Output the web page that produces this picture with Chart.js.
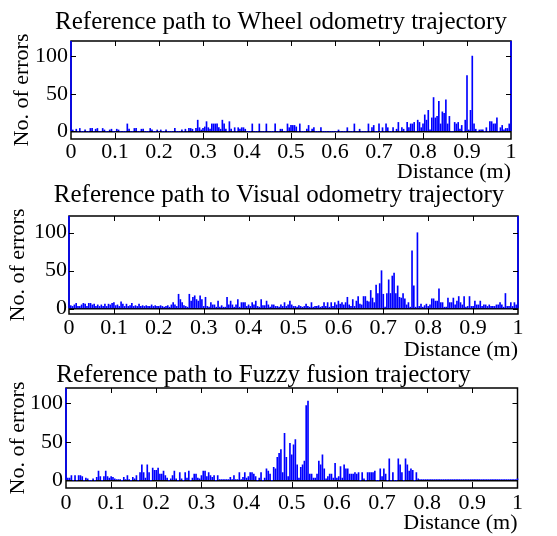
<!DOCTYPE html>
<html>
<head>
<meta charset="utf-8">
<script src="https://cdn.jsdelivr.net/npm/chart.js@4.4.0/dist/chart.umd.min.js"></script>
<style>
  html, body { margin: 0; padding: 0; background: #fff; }
  body { width: 557px; height: 536px; position: relative; overflow: hidden; }
  canvas { position: absolute; }
</style>
</head>
<body>
<canvas id="wheelChart" width="552" height="190" style="left:5px;top:0px"></canvas>
<canvas id="visualChart" width="556" height="182" style="left:1px;top:180px"></canvas>
<canvas id="fuzzyChart" width="527" height="179" style="left:0px;top:357px"></canvas>
<script>
// Error histograms, one bin every 0.004 m (251 bins from 0 to 1 m)
const binWidth = 0.004;

const titles = [
    'Reference path to Wheel odometry trajectory',
    'Reference path to Visual odometry trajectory',
    'Reference path to Fuzzy fusion trajectory'
];
const xTickValues = [0, 0.1, 0.2, 0.3, 0.4, 0.5, 0.6, 0.7, 0.8, 0.9, 1];
const xTickLabels = ['0', '0.1', '0.2', '0.3', '0.4', '0.5', '0.6', '0.7', '0.8', '0.9', '1'];
const yTickValues = [0, 50, 100];

const wheelErrors = [
    300, 2, 0, 3, 0, 4, 0, 0, 2, 0, 0, 4, 4, 0, 3, 4, 0, 0, 4, 2, 0, 0, 2, 3, 0,
    0, 3, 2, 0, 0, 0, 0, 10, 3, 0, 0, 4, 4, 0, 0, 3, 3, 0, 0, 0, 4, 2, 0, 0, 2,
    0, 2, 0, 0, 2, 0, 0, 0, 0, 4, 0, 0, 0, 2, 0, 3, 0, 4, 4, 3, 0, 4, 15, 5, 2,
    4, 6, 13, 5, 3, 10, 10, 10, 10, 5, 3, 15, 10, 3, 0, 13, 3, 0, 5, 0, 5, 3, 5, 5, 3,
    0, 0, 0, 10, 0, 0, 0, 10, 0, 0, 0, 10, 0, 0, 0, 0, 10, 0, 0, 3, 3, 0, 0, 10, 5,
    8, 8, 8, 6, 0, 10, 0, 0, 0, 3, 8, 0, 3, 5, 0, 0, 0, 5, 0, 0, 0, 0, 0, 0, 0,
    0, 0, 2, 0, 0, 0, 0, 5, 0, 0, 0, 10, 0, 0, 3, 0, 0, 0, 0, 10, 0, 5, 8, 0, 0,
    10, 0, 5, 0, 10, 5, 0, 0, 5, 0, 3, 12, 0, 5, 3, 0, 12, 5, 10, 10, 12, 0, 15, 12, 5,
    10, 22, 15, 28, 2, 18, 45, 18, 20, 40, 10, 26, 24, 42, 10, 20, 0, 0, 12, 10, 12, 3, 8, 0, 15,
    74, 2, 28, 100, 10, 3, 0, 2, 2, 2, 0, 5, 0, 13, 13, 10, 10, 18, 0, 5, 8, 2, 4, 4, 10,
    300
];

const visualErrors = [
    300, 4, 3, 5, 7, 3, 3, 5, 7, 6, 3, 7, 7, 5, 6, 3, 5, 3, 5, 3, 6, 3, 6, 5, 7,
    8, 4, 5, 3, 9, 6, 3, 6, 3, 4, 7, 3, 4, 3, 6, 3, 4, 3, 4, 3, 3, 5, 3, 4, 3,
    3, 4, 3, 2, 3, 4, 2, 5, 8, 5, 3, 19, 12, 8, 4, 3, 2, 19, 10, 15, 17, 12, 10, 17, 12,
    3, 15, 3, 2, 8, 5, 5, 2, 10, 2, 4, 2, 2, 15, 5, 10, 5, 2, 5, 12, 2, 8, 8, 8, 3,
    5, 3, 8, 5, 10, 3, 2, 12, 4, 4, 10, 5, 2, 5, 5, 3, 3, 2, 5, 3, 8, 3, 5, 10, 5,
    3, 3, 2, 4, 3, 2, 3, 6, 3, 2, 8, 2, 3, 3, 4, 2, 3, 8, 3, 8, 2, 8, 3, 8, 5,
    10, 6, 8, 5, 8, 15, 5, 3, 12, 3, 10, 16, 6, 5, 16, 16, 10, 9, 24, 14, 8, 31, 20, 33, 50,
    19, 2, 20, 38, 20, 43, 47, 20, 30, 15, 14, 20, 13, 5, 8, 2, 76, 30, 2, 100, 3, 6, 2, 4, 6,
    3, 5, 13, 13, 10, 10, 26, 8, 8, 2, 2, 14, 8, 8, 14, 5, 10, 16, 8, 5, 16, 2, 3, 16, 3,
    3, 10, 5, 5, 10, 3, 5, 5, 3, 5, 3, 3, 3, 5, 5, 8, 5, 2, 20, 3, 3, 8, 3, 8, 5,
    300
];

const fuzzyErrors = [
    300, 3, 3, 6, 0, 6, 0, 6, 6, 5, 0, 3, 2, 0, 0, 2, 0, 4, 12, 5, 0, 5, 12, 5, 3,
    5, 4, 2, 1, 1, 1, 0, 4, 1, 6, 1, 0, 4, 2, 6, 0, 10, 20, 10, 3, 20, 10, 0, 16, 13,
    13, 16, 8, 8, 12, 6, 3, 0, 2, 6, 12, 2, 0, 10, 2, 0, 10, 3, 12, 0, 3, 8, 8, 3, 2,
    6, 12, 12, 5, 10, 6, 4, 6, 0, 6, 1, 1, 1, 1, 1, 1, 4, 1, 6, 1, 1, 10, 1, 4, 10,
    3, 5, 10, 10, 8, 5, 0, 3, 10, 0, 3, 15, 12, 8, 0, 17, 15, 30, 35, 40, 10, 61, 30, 5, 48,
    33, 46, 53, 20, 3, 17, 20, 25, 97, 103, 8, 8, 3, 3, 8, 25, 20, 33, 15, 2, 5, 8, 8, 3, 22,
    3, 5, 18, 3, 20, 15, 15, 8, 8, 8, 10, 8, 10, 0, 10, 2, 0, 10, 10, 10, 10, 12, 0, 0, 15,
    5, 15, 8, 0, 28, 0, 10, 0, 0, 28, 20, 10, 0, 28, 20, 12, 15, 13, 0, 10, 2, 1, 1, 1, 1,
    1, 1, 1, 1, 1, 1, 1, 1, 1, 1, 1, 1, 1, 1, 1, 1, 1, 1, 1, 1, 1, 1, 1, 1, 1,
    1, 1, 1, 1, 1, 1, 1, 1, 1, 1, 1, 1, 1, 1, 1, 1, 1, 1, 1, 1, 1, 1, 1, 1, 1,
    2
];

const serif = "'Liberation Serif', 'Times New Roman', serif";

// Layout of each subplot (pixels inside its own canvas)
const panels = [
    { id: 'wheelChart', title: titles[0], errors: wheelErrors, yWidth: 66, rightGap: 46, xHeight: 51,
      yMin: -10, yMax: 120, titlePad: { top: 9.5, bottom: 6.5 }, yTitlePad: 6, yTickPad: 3, xTickPad: 2.5, xTitlePad: 7 },
    { id: 'visualChart', title: titles[1], errors: visualErrors, yWidth: 68, rightGap: 39, xHeight: 48,
      yMin: -7, yMax: 122, titlePad: { top: 2.5, bottom: 8.5 }, yTitlePad: 6, yTickPad: 2, xTickPad: 3, xTitlePad: 1 },
    { id: 'fuzzyChart', title: titles[2], errors: fuzzyErrors, yWidth: 66, rightGap: 8, xHeight: 48,
      yMin: -10, yMax: 120, titlePad: { top: 5.5, bottom: 0.5 }, yTitlePad: 7, yTickPad: 3, xTickPad: 4, xTitlePad: 2 }
];

// Matlab-like box with inward ticks
const boxAndTicks = {
    id: 'boxAndTicks',
    beforeDatasetsDraw(chart) {
        const { ctx, chartArea: a } = chart;
        ctx.save();
        ctx.strokeStyle = '#000';
        ctx.lineWidth = 1.5;
        ctx.strokeRect(a.left, a.top, a.right - a.left, a.bottom - a.top);
        ctx.restore();
    },
    afterDatasetsDraw(chart) {
        const { ctx, chartArea: a, scales: { x, y } } = chart;
        ctx.save();
        ctx.strokeStyle = '#000';
        ctx.lineWidth = 1;
        ctx.beginPath();
        xTickValues.slice(1, -1).forEach(v => {
            const px = Math.round(x.getPixelForValue(v)) + 0.5;
            ctx.moveTo(px, a.top);
            ctx.lineTo(px, a.top + 5);
            ctx.moveTo(px, a.bottom);
            ctx.lineTo(px, a.bottom - 6);
        });
        yTickValues.forEach(v => {
            const py = Math.round(y.getPixelForValue(v)) + 0.5;
            ctx.moveTo(a.left, py);
            ctx.lineTo(a.left + 5, py);
            ctx.moveTo(a.right, py);
            ctx.lineTo(a.right - 5, py);
        });
        ctx.stroke();
        ctx.restore();
    }
};

function buildPanel(p) {
    const ctx = document.getElementById(p.id).getContext('2d');
    new Chart(ctx, {
        type: 'bar',
        data: {
            datasets: [{
                data: p.errors.map((v, i) => ({ x: i * binWidth, y: v })),
                backgroundColor: '#0000ff',
                borderWidth: 0,
                barThickness: 1,
                clip: { left: 2, right: 2, top: 0, bottom: 0 }
            }]
        },
        options: {
            responsive: false,
            animation: false,
            devicePixelRatio: 1,
            layout: { padding: 0 },
            plugins: {
                legend: { display: false },
                tooltip: { enabled: false },
                title: {
                    display: true,
                    text: p.title,
                    color: '#000',
                    font: { family: serif, size: 25, weight: 'normal', lineHeight: 1 },
                    padding: p.titlePad
                }
            },
            scales: {
                x: {
                    type: 'linear',
                    offset: false,
                    min: 0,
                    max: 1,
                    afterBuildTicks: scale => { scale.ticks = xTickValues.map(v => ({ value: v })); },
                    afterFit: scale => { scale.height = p.xHeight; },
                    grid: { display: false, drawTicks: false },
                    border: { display: false },
                    ticks: {
                        color: '#000',
                        padding: p.xTickPad,
                        maxRotation: 0,
                        autoSkip: false,
                        font: { family: serif, size: 22, lineHeight: 1 },
                        callback: value => xTickLabels[Math.round(value * 10)]
                    },
                    title: {
                        display: true,
                        text: 'Distance (m)',
                        align: 'end',
                        color: '#000',
                        font: { family: serif, size: 22, lineHeight: 1 },
                        padding: { top: 0, bottom: p.xTitlePad }
                    }
                },
                y: {
                    min: p.yMin,
                    max: p.yMax,
                    afterBuildTicks: scale => { scale.ticks = yTickValues.map(v => ({ value: v })); },
                    afterFit: scale => { scale.width = p.yWidth; },
                    grid: {
                        drawTicks: false,
                        lineWidth: 1.5,
                        color: c => (c.tick && c.tick.value === 0 ? '#000' : 'rgba(0,0,0,0)')
                    },
                    border: { display: false },
                    ticks: {
                        color: '#000',
                        padding: p.yTickPad,
                        font: { family: serif, size: 22, lineHeight: 1 }
                    },
                    title: {
                        display: true,
                        text: 'No. of errors',
                        color: '#000',
                        font: { family: serif, size: 22, lineHeight: 1 },
                        padding: { top: p.yTitlePad, bottom: 0 }
                    }
                },
                // empty right-hand axis, only reserves the gap right of the box
                gap: {
                    type: 'linear',
                    position: 'right',
                    afterFit: scale => { scale.width = p.rightGap; },
                    grid: { display: false, drawTicks: false },
                    border: { display: false },
                    ticks: { display: false }
                }
            }
        },
        plugins: [boxAndTicks]
    });
}

panels.forEach(buildPanel);
</script>
</body>
</html>
